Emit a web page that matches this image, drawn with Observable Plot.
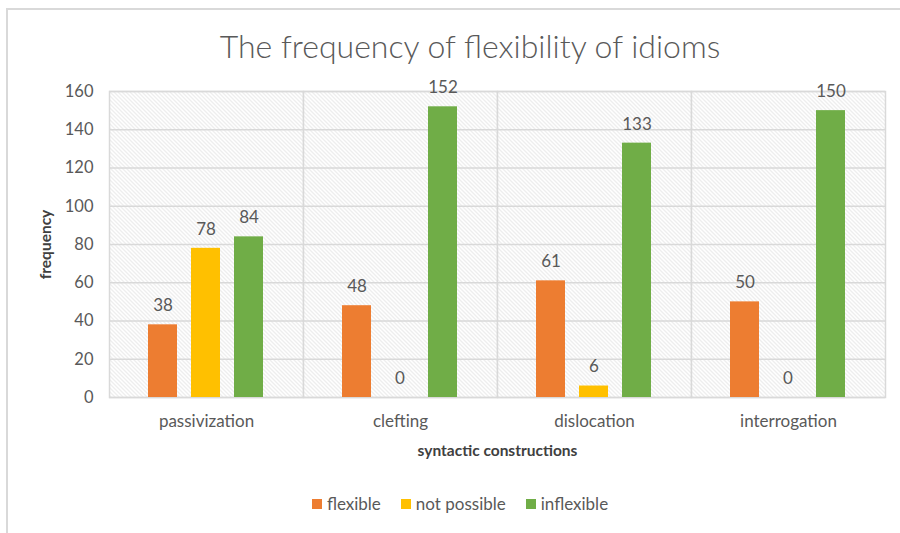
<!DOCTYPE html>
<html>
<head>
<meta charset="utf-8">
<script src="https://cdn.jsdelivr.net/npm/d3@7"></script>
<script src="https://cdn.jsdelivr.net/npm/@observablehq/plot@0.6"></script>
<style>
  html, body { margin: 0; padding: 0; background: #fff; }
  #wrap { position: relative; width: 900px; height: 533px; overflow: hidden; font-family: Lato, "Open Sans", sans-serif; color: #595959; }
  #border { position: absolute; left: 6px; top: 8px; width: 1000px; height: 1000px; border-left: 2px solid #d9d9d9; border-top: 2px solid #d9d9d9; }
  #title { position: relative; box-sizing: border-box; width: 900px; height: 75px; padding-left: 40px; padding-top: 26px; line-height: 40px; text-align: center; font-size: 32px; font-weight: 300; color: #595959; }
  #chart { position: relative; height: 400px; }
  #chart svg { display: block; }
  #legend { position: relative; margin-top: 19px; height: 20px; line-height: 20px; width: 900px; display: flex; justify-content: center; padding-left: 20px; box-sizing: border-box; font-size: 17px; color: #595959; gap: 20px; }
  .item { display: flex; align-items: center; gap: 5px; }
  .sw { width: 10px; height: 10px; display: inline-block; }
  svg [aria-label="y-axis label"], svg [aria-label="fx-axis label"] { font-weight: bold; font-size: 15.5px; fill: #404040; }
</style>
</head>
<body>
<div id="wrap">
  <div id="border"></div>
  <div id="title">The frequency of flexibility of idioms</div>
  <div id="chart"></div>
  <div id="legend"></div>
</div>
<script>
const categories = ["passivization", "clefting", "dislocation", "interrogation"];
const series = ["flexible", "not possible", "inflexible"];
const colors = ["#ED7D31", "#FFC000", "#70AD47"];
const flexible = [38, 48, 61, 50];
const notPossible = [78, 0, 6, 0];
const inflexible = [84, 152, 133, 150];
const yTicks = [0, 20, 40, 60, 80, 100, 120, 140, 160];

const valuesBySeries = [flexible, notPossible, inflexible];
const data = [];
categories.forEach((c, i) => {
  series.forEach((s, j) => data.push({category: c, series: s, value: valuesBySeries[j][i]}));
});

const chart = Plot.plot({
  width: 900,
  height: 400,
  marginTop: 16,
  marginBottom: 78,
  marginLeft: 108,
  marginRight: 15,
  style: {fontFamily: "Lato, 'Open Sans', sans-serif", fontSize: "16px", color: "#595959"},
  fx: {domain: categories, padding: 0, label: "syntactic constructions"},
  x: {domain: series, paddingInner: 0.32, paddingOuter: 0.9, axis: null},
  y: {domain: [0, 160], label: "frequency"},
  color: {domain: series, range: colors},
  marks: [
    Plot.frame({fill: "url(#hatch)", stroke: "#d9d9d9", strokeWidth: 1.5}),
    Plot.gridY(yTicks, {stroke: "#d9d9d9", strokeOpacity: 1, strokeWidth: 1.5}),
    Plot.barY(data, {fx: "category", x: "series", y: "value", fill: "series"}),
    Plot.text(data, {fx: "category", x: "series", y: "value", text: d => String(d.value), dy: -19, fontSize: 17, fill: "#595959"}),
    Plot.axisY(yTicks, {tickSize: 0, tickPadding: 16, fontSize: 16.5, label: "frequency", labelAnchor: "center", labelOffset: 70, labelArrow: "none"}),
    Plot.axisFx({anchor: "bottom", tickSize: 0, tickPadding: 17, fontSize: 17, label: "syntactic constructions", labelAnchor: "center", labelOffset: 58, labelArrow: "none"})
  ]
});

const svg = d3.select(chart);
const pat = svg.insert("defs", ":first-child").append("pattern")
  .attr("id", "hatch").attr("patternUnits", "userSpaceOnUse")
  .attr("width", 4).attr("height", 4);
pat.append("rect").attr("width", 4).attr("height", 4).attr("fill", "#ffffff");
pat.append("path").attr("d", "M0,0L4,4M-1,3L1,5M3,-1L5,1")
  .attr("stroke", "#d4d4d4").attr("stroke-width", 0.8);

document.getElementById("chart").appendChild(chart);

const legend = document.getElementById("legend");
series.forEach((s, i) => {
  const it = document.createElement("div");
  it.className = "item";
  const sw = document.createElement("span");
  sw.className = "sw";
  sw.style.background = colors[i];
  const tx = document.createElement("span");
  tx.textContent = s;
  it.appendChild(sw);
  it.appendChild(tx);
  legend.appendChild(it);
});
</script>
</body>
</html>
